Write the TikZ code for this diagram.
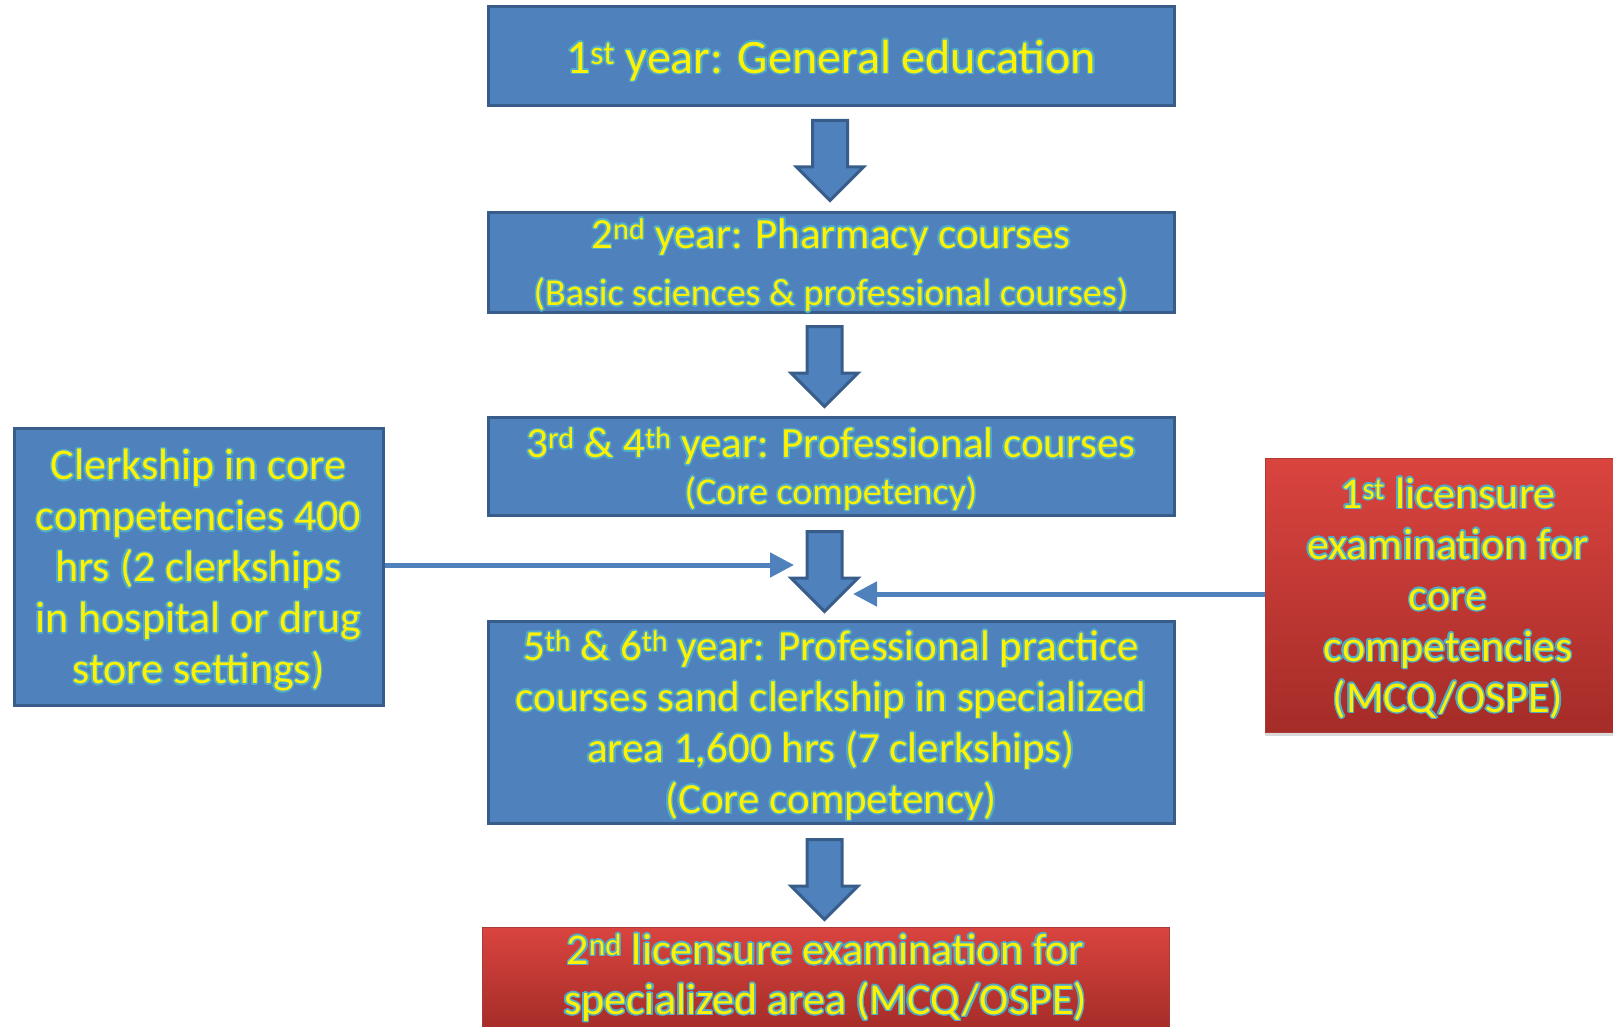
\documentclass[tikz,border=0pt]{standalone}
\usepackage{fontspec}
\setmainfont{Carlito}
\usepackage[copies]{contour}
\usetikzlibrary{shapes.arrows,arrows.meta,shadows}
\definecolor{boxblue}{RGB}{79,129,189}
\definecolor{boxedge}{RGB}{56,93,138}
\definecolor{examtop}{RGB}{218,68,63}
\definecolor{exambot}{RGB}{165,44,40}
\definecolor{examedge}{RGB}{170,60,55}
\definecolor{glowc}{RGB}{80,172,200}
\contourlength{1.5pt}
\newcommand{\gl}[1]{\contour{glowc}{#1}}
\newcommand{\fs}[2]{\fontsize{#1}{#2}\selectfont}
\begin{document}
\begin{tikzpicture}[x=1pt,y=-1pt,
box/.style={draw=boxedge,line width=3pt,fill=boxblue,text=yellow,align=center,inner sep=0pt,text depth=0pt},
exam/.style={draw=examedge,line width=1pt,top color=examtop,bottom color=exambot,text=yellow,align=center,inner sep=0pt,
  drop shadow={opacity=0.3,shadow xshift=0pt,shadow yshift=-4pt}},
blockarrow/.style={single arrow,draw=boxedge,line width=3pt,fill=boxblue,rotate=-90,anchor=tail,
  minimum height=80pt,single arrow head extend=16pt,inner xsep=0pt,inner ysep=16pt},
link/.style={draw=boxblue,line width=5pt,-{Triangle[length=24pt,width=24pt]}},
]
\useasboundingbox (0,0) rectangle (1613,1027);
\clip (0,0) rectangle (1613,1027);
% main column
\node[box,minimum width=686pt,minimum height=99pt,font=\fs{48}{56}] (y1) at (831,56.5)
  {\gl{1\textsuperscript{st} year: General education}};
\node[box,minimum width=686pt,minimum height=100pt] (y2) at (831,262)
  {\fs{43}{50}\gl{2\textsuperscript{nd} year: Pharmacy courses}\\[20pt]
   \fs{38}{44}\gl{(Basic sciences \& professional courses)}};
\node[box,minimum width=686pt,minimum height=98pt] (y3) at (831,466)
  {\fs{43}{50}\gl{3\textsuperscript{rd} \& 4\textsuperscript{th} year: Professional courses}\\[9pt]
   \fs{38}{44}\gl{(Core competency)}};
\node[box,minimum width=686pt,minimum height=202pt,font=\fs{43}{51}] (y4) at (831,722)
  {\gl{5\textsuperscript{th} \& 6\textsuperscript{th} year: Professional practice}\\
   \gl{courses sand clerkship in specialized}\\
   \gl{area 1,600 hrs (7 clerkships)}\\
   \gl{(Core competency)}};
\node[exam,minimum width=687pt,minimum height=103pt,font=\fs{44}{50}] (lic2) at (825.5,978.5)
  {\gl{2\textsuperscript{nd} licensure examination for}\\
   \gl{specialized area (MCQ/OSPE)}};
% side boxes
\node[box,minimum width=369pt,minimum height=277pt,font=\fs{44}{51}] (clerk) at (198.5,566.5)
  {\gl{Clerkship in core}\\ \gl{competencies 400}\\ \gl{hrs (2 clerkships}\\
   \gl{in hospital or drug}\\ \gl{store settings)}};
\node[exam,minimum width=366pt,minimum height=274pt,font=\fs{44}{51},text depth=0pt] (lic1) at (1448,595)
  {\gl{1\textsuperscript{st} licensure}\\ \gl{examination for}\\ \gl{core}\\
   \gl{competencies}\\ \gl{(MCQ/OSPE)}};
% block arrows
\node[blockarrow] (a1) at (830,119) {};
\node[blockarrow] (a2) at (824.5,325) {};
\node[blockarrow] (a3) at (824.5,530) {};
\node[blockarrow] (a4) at (824.5,838) {};
% side links
\coordinate (ltip) at (794,565);
\coordinate (rtip) at (853,594);
\draw[link] (clerk.east |- ltip) -- (ltip);
\draw[link] (lic1.west |- rtip) -- (rtip);
\end{tikzpicture}
\end{document}
